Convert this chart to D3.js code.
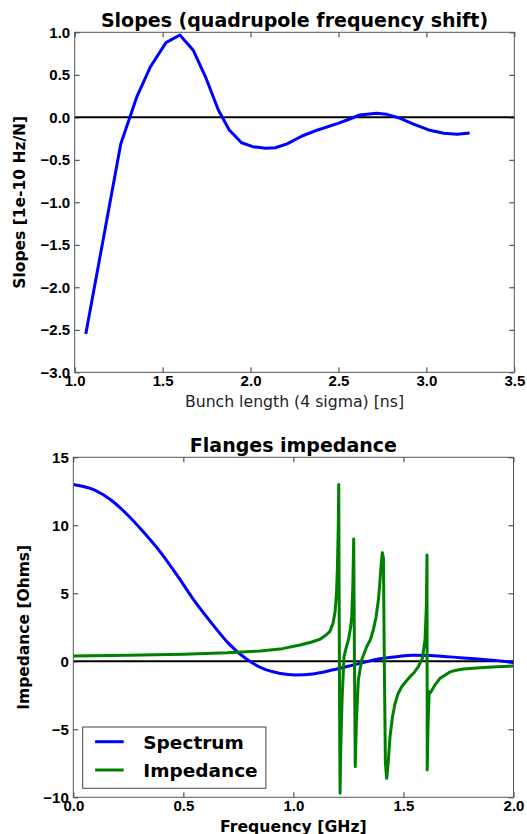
<!DOCTYPE html>
<html>
<head>
<meta charset="utf-8">
<script src="https://cdn.jsdelivr.net/npm/d3@7"></script>
<style>
  body { margin: 0; background: #fff; }
  svg { display: block; font-family: "DejaVu Sans", sans-serif; }
  .tick text { font-weight: bold; font-size: 15px; fill: #000; }
</style>
</head>
<body>
<svg id="chart" width="527" height="834"></svg>
<script>
// top panel: slopes vs bunch length
const bunchLength = [1.063, 1.262, 1.353, 1.431, 1.519, 1.598, 1.674, 1.747, 1.817, 1.879, 1.949, 2.013, 2.084, 2.141, 2.208, 2.293, 2.382, 2.497, 2.564, 2.621, 2.717, 2.774, 2.841, 2.927, 3.013, 3.099, 3.175, 3.246];
const slopes = [-2.55, -0.314, 0.239, 0.595, 0.878, 0.968, 0.79, 0.46, 0.086, -0.149, -0.299, -0.346, -0.365, -0.358, -0.313, -0.22, -0.149, -0.071, -0.02, 0.027, 0.047, 0.035, -0.005, -0.079, -0.149, -0.188, -0.2, -0.186];
const slopeTicksX = [1.0, 1.5, 2.0, 2.5, 3.0, 3.5];
const slopeTicksY = [-3.0, -2.5, -2.0, -1.5, -1.0, -0.5, 0.0, 0.5, 1.0];

// bottom panel: spectrum and impedance vs frequency
const specFreq = [0, 0.095, 0.171, 0.247, 0.324, 0.4, 0.476, 0.553, 0.629, 0.705, 0.782, 0.858, 0.935, 1.011, 1.087, 1.163, 1.24, 1.316, 1.392, 1.468, 1.545, 1.621, 1.697, 1.774, 1.85, 1.926, 2.0];
const spectrum = [13.0, 12.6, 11.86, 10.76, 9.41, 7.94, 6.22, 4.38, 2.79, 1.32, 0.22, -0.51, -0.88, -1.01, -0.93, -0.69, -0.4, -0.1, 0.19, 0.34, 0.44, 0.43, 0.34, 0.25, 0.15, 0.05, -0.1];
const impFreq = [0, 0.25, 0.5, 0.7, 0.85, 0.95, 1.03, 1.08, 1.121, 1.15, 1.166, 1.18, 1.189, 1.196, 1.2, 1.204, 1.206, 1.208, 1.21, 1.212, 1.215, 1.221, 1.23, 1.24, 1.25, 1.26, 1.265, 1.27, 1.274, 1.277, 1.281, 1.286, 1.295, 1.31, 1.333, 1.35, 1.363, 1.375, 1.386, 1.392, 1.398, 1.404, 1.409, 1.413, 1.418, 1.424, 1.43, 1.439, 1.45, 1.462, 1.475, 1.492, 1.51, 1.53, 1.55, 1.567, 1.586, 1.598, 1.604, 1.607, 1.608, 1.612, 1.617, 1.623, 1.628, 1.643, 1.666, 1.69, 1.711, 1.74, 1.772, 1.848, 1.924, 2.0];
const impedance = [0.39, 0.44, 0.52, 0.62, 0.76, 0.93, 1.2, 1.4, 1.62, 1.95, 2.2, 2.8, 3.6, 5.0, 6.9, 10.0, 13.0, 4.0, -4.0, -9.7, -6.5, -2.85, 0.34, 1.0, 1.57, 2.5, 3.3, 5.5, 9.0, 1.0, -7.75, -4.5, -1.38, 0.1, 1.07, 1.6, 2.3, 3.2, 4.5, 5.6, 6.96, 7.99, 7.6, 0.0, -7.5, -8.6, -7.6, -5.54, -4.1, -3.09, -2.4, -1.87, -1.5, -1.13, -0.8, -0.4, 0.22, 1.57, 4.0, 7.82, -7.99, -4.5, -2.24, -2.3, -2.16, -1.74, -1.25, -1.0, -0.78, -0.66, -0.57, -0.47, -0.4, -0.35];
const freqTicks = [0.0, 0.5, 1.0, 1.5, 2.0];
const impTicks = [-10, -5, 0, 5, 10, 15];
const legendNames = ["Spectrum", "Impedance"];
const legendColors = ["#0000ff", "#008000"];

const svg = d3.select("#chart");

function drawPanel(opt) {
  const x = d3.scaleLinear().domain(opt.xDomain).range([opt.left, opt.right]);
  const y = d3.scaleLinear().domain(opt.yDomain).range([opt.bottom, opt.top]);
  const g = svg.append("g");
  const clipId = "clip" + opt.id;
  g.append("clipPath").attr("id", clipId).append("rect")
    .attr("x", opt.left).attr("y", opt.top)
    .attr("width", opt.right - opt.left).attr("height", opt.bottom - opt.top);

  // ticks point inward on all four sides
  const tl = 5;
  const bottomAxis = d3.axisBottom(x).tickValues(opt.xTicks).tickFormat(d3.format(opt.xFmt)).tickSizeInner(-tl).tickSizeOuter(0).tickPadding(3.5);
  g.append("g").attr("transform", `translate(0,${opt.bottom})`).call(bottomAxis);
  g.append("g").attr("transform", `translate(0,${opt.top})`)
    .call(d3.axisTop(x).tickValues(opt.xTicks).tickSizeInner(-tl).tickSizeOuter(0).tickFormat(""));
  const leftAxis = d3.axisLeft(y).tickValues(opt.yTicks).tickFormat(d3.format(opt.yFmt)).tickSizeInner(-tl).tickSizeOuter(0).tickPadding(4.5);
  g.append("g").attr("transform", `translate(${opt.left},0)`).call(leftAxis);
  g.append("g").attr("transform", `translate(${opt.right},0)`)
    .call(d3.axisRight(y).tickValues(opt.yTicks).tickSizeInner(-tl).tickSizeOuter(0).tickFormat(""));
  g.selectAll(".domain").remove();
  g.selectAll(".tick line").attr("stroke", "#333");

  const plot = g.append("g").attr("clip-path", `url(#${clipId})`);
  plot.append("line")
    .attr("x1", opt.left).attr("x2", opt.right)
    .attr("y1", y(0)).attr("y2", y(0))
    .attr("stroke", "#000").attr("stroke-width", 2);

  opt.series.forEach(s => {
    const line = d3.line().x(d => x(d[0])).y(d => y(d[1])).curve(s.curve || d3.curveLinear);
    plot.append("path")
      .datum(d3.zip(s.xs, s.ys))
      .attr("fill", "none")
      .attr("stroke", s.color)
      .attr("stroke-width", 3)
      .attr("stroke-linejoin", "round")
      .attr("d", line);
  });

  g.append("rect")
    .attr("x", opt.left).attr("y", opt.top)
    .attr("width", opt.right - opt.left).attr("height", opt.bottom - opt.top)
    .attr("fill", "none").attr("stroke", "#555").attr("stroke-width", 1);

  g.append("text")
    .attr("x", (opt.left + opt.right) / 2).attr("y", opt.titleY)
    .attr("text-anchor", "middle")
    .attr("font-size", 19).attr("font-weight", "bold")
    .text(opt.title);

  g.append("text")
    .attr("x", (opt.left + opt.right) / 2).attr("y", opt.xLabelY)
    .attr("text-anchor", "middle")
    .attr("font-size", 15.7).attr("font-weight", opt.xLabelBold ? "bold" : "normal")
    .attr("fill", opt.xLabelBold ? "#000" : "#222")
    .text(opt.xLabel);

  g.append("text")
    .attr("transform", `translate(${opt.yLabelX},${(opt.top + opt.bottom) / 2}) rotate(-90)`)
    .attr("text-anchor", "middle")
    .attr("font-size", 15.5).attr("font-weight", "bold")
    .text(opt.yLabel);

  return { x, y, g };
}

drawPanel({
  id: "top",
  left: 74.7, right: 514.3, top: 32.3, bottom: 372.3,
  xDomain: [1.0, 3.5], yDomain: [-3.0, 1.0],
  xTicks: slopeTicksX, yTicks: slopeTicksY, xFmt: ".1f", yFmt: ".1f",
  series: [{ xs: bunchLength, ys: slopes, color: "#0000ff" }],
  title: "Slopes (quadrupole frequency shift)", titleY: 26.5,
  xLabel: "Bunch length (4 sigma) [ns]", xLabelY: 406.5, xLabelBold: false,
  yLabel: "Slopes [1e-10 Hz/N]", yLabelX: 24.5
});

const bottomPanel = drawPanel({
  id: "bottom",
  left: 73.3, right: 513.5, top: 457.3, bottom: 797.3,
  xDomain: [0, 2.0], yDomain: [-10, 15],
  xTicks: freqTicks, yTicks: impTicks, xFmt: ".1f", yFmt: "d",
  series: [
    { xs: specFreq, ys: spectrum, color: "#0000ff", curve: d3.curveMonotoneX },
    { xs: impFreq, ys: impedance, color: "#008000" }
  ],
  title: "Flanges impedance", titleY: 451.5,
  xLabel: "Frequency [GHz]", xLabelY: 832, xLabelBold: true,
  yLabel: "Impedance [Ohms]", yLabelX: 28.5
});

// legend, lower left
const legend = bottomPanel.g.append("g");
legend.append("rect")
  .attr("x", 82.7).attr("y", 727)
  .attr("width", 183.2).attr("height", 61.3)
  .attr("fill", "#fff").attr("stroke", "#444").attr("stroke-width", 1);
legendNames.forEach((name, i) => {
  const ly = 741.7 + i * 28.3;
  legend.append("line")
    .attr("x1", 95.1).attr("x2", 123.7)
    .attr("y1", ly).attr("y2", ly)
    .attr("stroke", legendColors[i]).attr("stroke-width", 3);
  legend.append("text")
    .attr("x", 143.3).attr("y", ly + 6.8)
    .attr("font-size", 18.5).attr("font-weight", "bold")
    .text(name);
});
</script>
</body>
</html>
